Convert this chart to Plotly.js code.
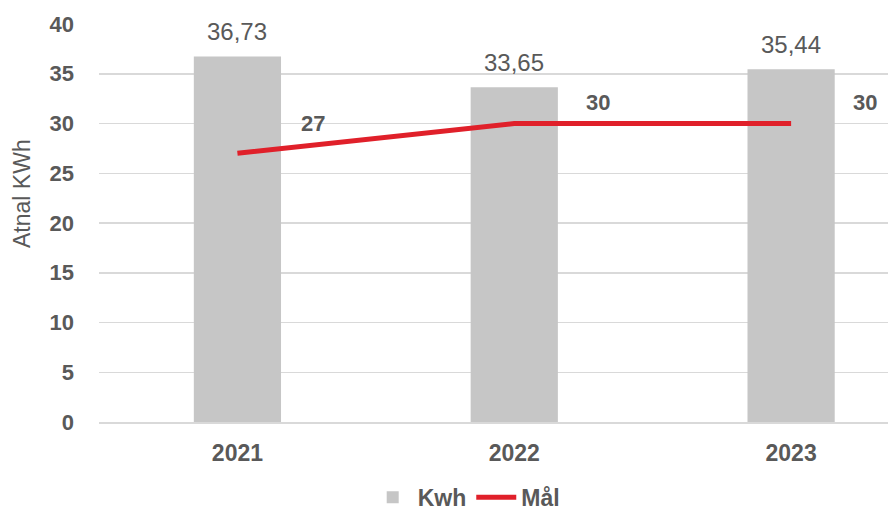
<!DOCTYPE html>
<html><head><meta charset="utf-8">
<script src="https://cdn.plot.ly/plotly-3.0.1.min.js"></script>
<style>html,body{margin:0;padding:0;background:#fff}#c{width:888px;height:511px}</style>
</head><body><div id="c"></div>
<script>
var years = ['2021', '2022', '2023'];
var kwh = [36.73, 33.65, 35.44];
var maal = [27, 30, 30];
var yTicks = [0, 5, 10, 15, 20, 25, 30, 35, 40];

var grey = '#595959';
var fam = '"Liberation Sans", Arial, sans-serif';

var bars = {
  type: 'bar', name: 'Kwh', x: years, y: kwh, width: 0.315,
  marker: {color: '#c6c6c6'}, hoverinfo: 'skip'
};
var line = {
  type: 'scatter', mode: 'lines', name: 'Mål', x: years, y: maal,
  line: {color: '#e0202a', width: 5}, hoverinfo: 'skip'
};

var lineShiftX = [76, 84, 74];
var ann = [];
years.forEach(function (yr, i) {
  ann.push({x: i, y: kwh[i], xref: 'x', yref: 'y', text: kwh[i].toFixed(2).replace('.', ','),
    showarrow: false, yanchor: 'middle', yshift: 25, font: {family: fam, size: 24, color: grey}});
  ann.push({x: i, y: maal[i], xref: 'x', yref: 'y', text: '<b>' + maal[i] + '</b>',
    showarrow: false, yanchor: 'middle', xshift: lineShiftX[i], yshift: i === 0 ? 30 : 21,
    font: {family: fam, size: 22, color: grey}});
});
ann.push({xref: 'paper', yref: 'paper', x: -0.0978, y: 0.575, xanchor: 'center', yanchor: 'middle',
  text: 'Atnal KWh', textangle: -90, showarrow: false, font: {family: fam, size: 23, color: grey}});

var layout = {
  width: 888, height: 511,
  margin: {l: 99, r: 0, t: 24, b: 89},
  paper_bgcolor: '#fff', plot_bgcolor: '#fff',
  showlegend: true,
  legend: {orientation: 'h', xref: 'container', yref: 'container', x: 0.525, xanchor: 'center',
    y: 0.027, yanchor: 'middle',
    font: {family: fam, size: 23, color: grey, weight: 'bold'}, itemwidth: 40},
  xaxis: {type: 'category', range: [-0.5, 2.35], showgrid: false, showline: true,
    linecolor: '#d9d9d9', linewidth: 2, ticks: '', ticklabelstandoff: 9,
    tickfont: {family: fam, size: 23, color: grey, weight: 'bold'}},
  yaxis: {range: [0, 40], tickvals: yTicks, ticktext: yTicks.map(String), showgrid: true,
    gridcolor: '#d9d9d9', gridwidth: 1.5, zeroline: false, showline: false, ticks: '',
    ticklabelstandoff: 24,
    tickfont: {family: fam, size: 22, color: grey, weight: 'bold'}},
  annotations: ann
};

Plotly.newPlot('c', [bars, line], layout, {displayModeBar: false, staticPlot: true});
</script></body></html>
